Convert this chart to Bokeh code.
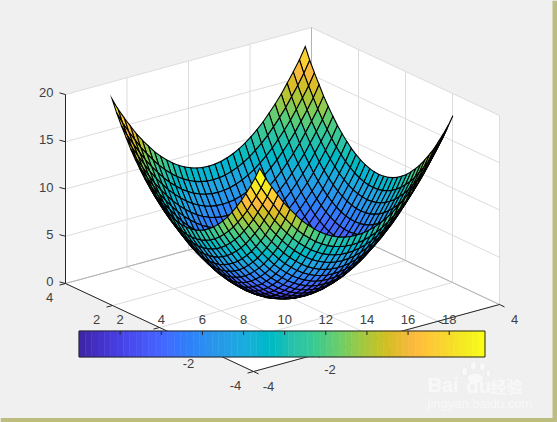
from bokeh.plotting import figure
from bokeh.embed import file_html
from bokeh.resources import INLINE
from bokeh.models import Range1d, GlobalInlineStyleSheet
from bokeh.core.properties import value
import math

# ---- data ----
grid_x = [-3.14,-2.95,-2.75,-2.55,-2.36,-2.16,-1.96,-1.77,-1.57,-1.37,-1.18,-0.98,-0.79,-0.59,-0.39,-0.20,0.00,
          0.20,0.39,0.59,0.79,0.98,1.18,1.37,1.57,1.77,1.96,2.16,2.36,2.55,2.75,2.95,3.14]
grid_y = list(grid_x)
z_part_x = [9.87,8.65,7.55,6.52,5.55,4.67,3.86,3.13,2.47,1.89,1.39,0.96,0.62,0.35,0.15,0.04,0.00,
            0.04,0.15,0.35,0.62,0.96,1.39,1.89,2.47,3.13,3.86,4.67,5.55,6.52,7.55,8.65,9.87]
z_part_y = list(z_part_x)
x_ticks = [-4,-2,0,2,4]
y_ticks = [-4,-2,0,2,4]
z_ticks = [0,5,10,15,20]
cbar_ticks = [2,4,6,8,10,12,14,16,18]
clim = (0.0, 19.74)
parula = """0.2422 0.1504 0.6603;0.2504 0.1650 0.7076;0.2578 0.1818 0.7511;0.2647 0.1978 0.7952;0.2706 0.2147 0.8364;0.2751 0.2342 0.8710;0.2783 0.2559 0.8991;0.2803 0.2782 0.9221;0.2813 0.3006 0.9414;0.2810 0.3228 0.9579;0.2795 0.3447 0.9717;0.2760 0.3667 0.9829;0.2699 0.3892 0.9906;0.2602 0.4123 0.9952;0.2440 0.4358 0.9988;0.2206 0.4603 0.9973;0.1963 0.4847 0.9892;0.1834 0.5074 0.9798;0.1786 0.5289 0.9682;0.1764 0.5499 0.9520;0.1687 0.5703 0.9359;0.1540 0.5902 0.9218;0.1460 0.6091 0.9079;0.1380 0.6276 0.8973;0.1248 0.6459 0.8883;0.1113 0.6635 0.8763;0.0952 0.6798 0.8598;0.0689 0.6948 0.8394;0.0297 0.7082 0.8163;0.0036 0.7203 0.7917;0.0067 0.7312 0.7660;0.0433 0.7411 0.7394;0.0964 0.7500 0.7120;0.1408 0.7584 0.6842;0.1717 0.7670 0.6554;0.1938 0.7758 0.6251;0.2161 0.7843 0.5923;0.2470 0.7918 0.5567;0.2906 0.7973 0.5188;0.3406 0.8008 0.4789;0.3909 0.8029 0.4354;0.4456 0.8024 0.3909;0.5044 0.7993 0.3480;0.5616 0.7942 0.3045;0.6174 0.7876 0.2612;0.6720 0.7793 0.2227;0.7242 0.7698 0.1910;0.7738 0.7598 0.1646;0.8203 0.7498 0.1535;0.8634 0.7406 0.1596;0.9035 0.7330 0.1774;0.9393 0.7288 0.2100;0.9728 0.7298 0.2394;0.9956 0.7434 0.2371;0.9970 0.7659 0.2199;0.9952 0.7893 0.2028;0.9892 0.8136 0.1885;0.9786 0.8386 0.1766;0.9676 0.8639 0.1643;0.9610 0.8890 0.1537;0.9597 0.9135 0.1423;0.9628 0.9373 0.1265;0.9691 0.9606 0.1064;0.9769 0.9839 0.0805"""

palette = ["#%02x%02x%02x" % tuple(round(float(c)*255) for c in row.split()) for row in parula.split(";")]

# ---- projection of the default 3-D view onto the page ----
L0 = (65.0, 283.0); F0 = (253.0, 371.0); R0 = (499.0, 304.0); ZH = 189.0
def proj(x, y, z):
    u = (x + 4) / 8; v = (4 - y) / 8
    return (L0[0] + (R0[0]-F0[0])*u + (F0[0]-L0[0])*v,
            L0[1] + (R0[1]-F0[1])*u + (F0[1]-L0[1])*v - ZH*z/20)
def depth(x, y, z):
    az = math.radians(-37.5); el = math.radians(21)
    return (x/8*math.cos(el)*math.sin(az) - y/8*math.cos(el)*math.cos(az) + z/20*0.65*math.sin(el))

BG = "#F0F0F0"
p = figure(width=557, height=422, x_range=Range1d(0, 557), y_range=Range1d(422, 0),
           output_backend="svg", toolbar_location=None, min_border=0,
           x_axis_location=None, y_axis_location=None, background_fill_color=BG,
           border_fill_color=BG, outline_line_color=None)
p.grid.visible = False
p.stylesheets = [GlobalInlineStyleSheet(css="html,body{margin:0;background:#F0F0F0;overflow:hidden}")]

# window frame
p.quad(left=[552, 0], right=[557, 557], top=[0, 417.5], bottom=[422, 422], fill_color="#BDBD80", line_color=None)

# white walls and floor
wall = [proj(-4,4,20), proj(4,4,20), proj(4,-4,20), proj(4,-4,0), proj(-4,-4,0), proj(-4,4,0)]
p.patch([q[0] for q in wall], [q[1] for q in wall], fill_color="white", line_color=None)

GRID = "#DCDCDC"
def seg(pairs, color, w=1.0):
    p.segment([a[0] for a, b in pairs], [a[1] for a, b in pairs],
              [b[0] for a, b in pairs], [b[1] for a, b in pairs], line_color=color, line_width=w)

gl = []
for t in x_ticks:
    gl.append((proj(t,4,0), proj(t,-4,0)))     # floor
    gl.append((proj(t,4,0), proj(t,4,20)))     # wall y=4
for t in y_ticks:
    gl.append((proj(-4,t,0), proj(4,t,0)))     # floor
    gl.append((proj(4,t,0), proj(4,t,20)))     # wall x=4
for t in z_ticks:
    gl.append((proj(-4,4,t), proj(4,4,t)))
    gl.append((proj(4,4,t), proj(4,-4,t)))
seg(gl, GRID)
seg([(proj(-4,4,0), proj(4,4,0)), (proj(4,4,0), proj(4,-4,0)), (proj(4,4,0), proj(4,4,20))], "#B4B4B4")

# axis lines and ticks
AX = "#262626"
seg([(proj(-4,4,0), proj(-4,4,20)), (proj(-4,4,0), proj(-4,-4,0)), (proj(-4,-4,0), proj(4,-4,0))], AX)
tk = []
for t in z_ticks:
    a = proj(-4,4,t); tk.append((a, (a[0]-6, a[1]-1.6)))
for t in y_ticks:
    a = proj(-4,t,0); tk.append((a, (a[0]-6, a[1]+1.6)))
for t in x_ticks:
    a = proj(t,-4,0); tk.append((a, (a[0]+5, a[1]+2.4)))
seg(tk, AX)

# surface: far faces first, each face coloured by its first vertex
faces = []
n = len(grid_x)
for j in range(n-1):
    for i in range(n-1):
        idx = [(i,j),(i+1,j),(i+1,j+1),(i,j+1)]
        pts = [(grid_x[a], grid_y[b], z_part_x[a]+z_part_y[b]) for a,b in idx]
        d = sum(depth(*q) for q in pts)/4
        k = int((pts[0][2]-clim[0])/(clim[1]-clim[0])*len(palette))
        k = max(0, min(len(palette)-1, k))
        sc = [proj(*q) for q in pts]
        faces.append((d, [q[0] for q in sc], [q[1] for q in sc], palette[k]))
faces.sort(key=lambda f: f[0])
p.patches([f[1] for f in faces], [f[2] for f in faces], fill_color=[f[3] for f in faces],
          line_color="black", line_width=1.1, line_join="miter")

# tick labels of the axes
TXT = "#404040"
def labels(xs, ys, txt, align="center", size="13px", color=TXT, style="normal", font="Liberation Sans"):
    p.text(xs, ys, text=txt, text_align=align, text_baseline="middle", text_color=color,
           text_font_size=size, text_font=value(font), text_font_style=style)
labels([proj(-4,4,t)[0]-12 for t in z_ticks], [proj(-4,4,t)[1]-2 for t in z_ticks],
       [str(t) for t in z_ticks], align="right")
labels([proj(-4,t,0)[0]-(18 if t < 0 else 16) for t in y_ticks], [proj(-4,t,0)[1]+13.5 for t in y_ticks], [str(t) for t in y_ticks])
labels([proj(t,-4,0)[0]+15 for t in x_ticks], [proj(t,-4,0)[1]+14.5 for t in x_ticks], [str(t) for t in x_ticks])

# colour bar on top of everything
CB = (78.5, 484.5, 330.5, 356.5)
def cx(v):
    return CB[0] + (CB[1]-CB[0])*(v-clim[0])/(clim[1]-clim[0])
m = len(palette)
edges = [clim[0] + (clim[1]-clim[0])*i/m for i in range(m+1)]
p.quad(left=[cx(e) for e in edges[:-1]], right=[cx(e) for e in edges[1:]], top=CB[2], bottom=CB[3],
       fill_color=palette, line_color=palette, line_width=0.5)
p.quad(left=[CB[0]], right=[CB[1]], top=[CB[2]], bottom=[CB[3]], fill_color=None, line_color=AX, line_width=1)
p.segment([cx(v) for v in cbar_ticks], CB[2], [cx(v) for v in cbar_ticks], CB[2]+4, line_color=AX, line_width=1)
labels([cx(v) for v in cbar_ticks], [319]*len(cbar_ticks), [str(v) for v in cbar_ticks])

# watermark
WM = "#F8F8F8"
p.ellipse([464, 473, 482, 488], [371, 365, 366, 373], width=[6,6,6,5], height=[9,9,9,8], fill_color=WM, line_color="#E6E6E6", line_width=0.7)
p.ellipse([475], [378], width=[17], height=[11], fill_color=WM, line_color="#E6E6E6", line_width=0.7)
labels([427], [384], ["Bai"], align="left", size="20px", color=WM, style="bold", font="Liberation Sans")
labels([466], [385], ["du"], align="left", size="20px", color=WM, style="bold", font="Liberation Sans")
labels([490], [385], ["经验"], align="left", size="16px", color=WM, style="bold", font="Noto Sans CJK SC")
labels([427], [403], ["jingyan.baidu.com"], align="left", size="13px", color=WM, font="Liberation Sans")

open("out.html", "w").write(file_html(p, INLINE))
